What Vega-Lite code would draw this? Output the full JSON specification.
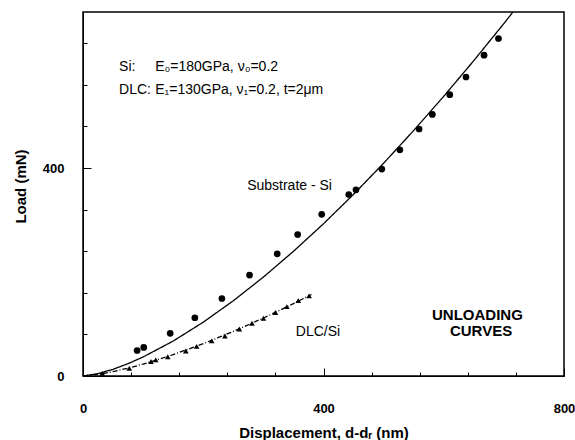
{
  "$schema": "https://vega.github.io/schema/vega-lite/v6.json",
  "width": 481,
  "height": 364,
  "autosize": "none",
  "padding": {"left": 83, "top": 12, "right": 11, "bottom": 64},
  "background": "white",
  "config": {
    "view": {"stroke": "black", "strokeWidth": 1.5},
    "font": "Liberation Sans",
    "axis": {"grid": false, "domainColor": "black", "labelColor": "black", "titleColor": "black", "labelOverlap": false}
  },
  "datasets": {
    "points": [
      {"series": "Si", "x": 90, "y": 49}, {"series": "Si", "x": 101, "y": 55}, {"series": "Si", "x": 145, "y": 82},
      {"series": "Si", "x": 186, "y": 112}, {"series": "Si", "x": 231, "y": 149}, {"series": "Si", "x": 277, "y": 194},
      {"series": "Si", "x": 323, "y": 235}, {"series": "Si", "x": 357, "y": 272}, {"series": "Si", "x": 397, "y": 311},
      {"series": "Si", "x": 442, "y": 349}, {"series": "Si", "x": 454, "y": 358}, {"series": "Si", "x": 497, "y": 398},
      {"series": "Si", "x": 527, "y": 435}, {"series": "Si", "x": 559, "y": 475}, {"series": "Si", "x": 581, "y": 503},
      {"series": "Si", "x": 610, "y": 541}, {"series": "Si", "x": 637, "y": 575}, {"series": "Si", "x": 667, "y": 617},
      {"series": "Si", "x": 691, "y": 649},
      {"series": "DLC", "x": 32, "y": 5}, {"series": "DLC", "x": 77, "y": 15}, {"series": "DLC", "x": 113, "y": 28},
      {"series": "DLC", "x": 121, "y": 31}, {"series": "DLC", "x": 141, "y": 37}, {"series": "DLC", "x": 171, "y": 48},
      {"series": "DLC", "x": 189, "y": 57}, {"series": "DLC", "x": 214, "y": 67.5}, {"series": "DLC", "x": 236, "y": 77},
      {"series": "DLC", "x": 260, "y": 90.5}, {"series": "DLC", "x": 281, "y": 101.5}, {"series": "DLC", "x": 300, "y": 111},
      {"series": "DLC", "x": 320, "y": 122}, {"series": "DLC", "x": 339, "y": 133.5}, {"series": "DLC", "x": 358, "y": 145},
      {"series": "DLC", "x": 376, "y": 154}
    ],
    "curves": [
      {"curve": "Substrate - Si", "x": 0, "y": 0}, {"curve": "Substrate - Si", "x": 25, "y": 4.6},
      {"curve": "Substrate - Si", "x": 50, "y": 12.9}, {"curve": "Substrate - Si", "x": 75, "y": 23.8},
      {"curve": "Substrate - Si", "x": 100, "y": 36.6}, {"curve": "Substrate - Si", "x": 150, "y": 67.2},
      {"curve": "Substrate - Si", "x": 200, "y": 103.5}, {"curve": "Substrate - Si", "x": 250, "y": 144.7},
      {"curve": "Substrate - Si", "x": 300, "y": 190.2}, {"curve": "Substrate - Si", "x": 350, "y": 239.7},
      {"curve": "Substrate - Si", "x": 400, "y": 292.8}, {"curve": "Substrate - Si", "x": 450, "y": 349.4},
      {"curve": "Substrate - Si", "x": 500, "y": 409.2}, {"curve": "Substrate - Si", "x": 550, "y": 472.1},
      {"curve": "Substrate - Si", "x": 600, "y": 537.9}, {"curve": "Substrate - Si", "x": 650, "y": 606.5},
      {"curve": "Substrate - Si", "x": 700, "y": 677.8}, {"curve": "Substrate - Si", "x": 715, "y": 699.8},
      {"curve": "DLC/Si", "x": 0, "y": 0}, {"curve": "DLC/Si", "x": 25, "y": 3.1},
      {"curve": "DLC/Si", "x": 50, "y": 8.4}, {"curve": "DLC/Si", "x": 75, "y": 15.1},
      {"curve": "DLC/Si", "x": 100, "y": 22.9}, {"curve": "DLC/Si", "x": 150, "y": 41.1},
      {"curve": "DLC/Si", "x": 200, "y": 62.2}, {"curve": "DLC/Si", "x": 250, "y": 85.7},
      {"curve": "DLC/Si", "x": 300, "y": 111.4}, {"curve": "DLC/Si", "x": 350, "y": 139.1},
      {"curve": "DLC/Si", "x": 380, "y": 156.8}
    ],
    "labels": [
      {"x": 60, "y": 595, "t": "Si:"},
      {"x": 120, "y": 595, "t": "E₀=180GPa, ν₀=0.2"},
      {"x": 60, "y": 550, "t": "DLC:"},
      {"x": 120, "y": 550, "t": "E₁=130GPa, ν₁=0.2,  t=2μm"},
      {"x": 273, "y": 366, "t": "Substrate - Si"},
      {"x": 354, "y": 85, "t": "DLC/Si"}
    ],
    "boldlabels": [
      {"x": 656, "y": 117, "t": "UNLOADING"},
      {"x": 662, "y": 87, "t": "CURVES"}
    ]
  },
  "layer": [
    {
      "data": {"name": "points"},
      "mark": {"type": "point", "filled": true, "color": "black", "opacity": 1},
      "encoding": {
        "x": {"field": "x", "type": "quantitative", "scale": {"domain": [0, 800], "nice": false},
          "axis": {"orient": "bottom", "title": "Displacement,  d-dᵣ (nm)",
            "values": [0,20,40,60,80,100,120,140,160,180,200,220,240,260,280,300,320,340,360,380,400,420,440,460,480,500,520,540,560,580,600,620,640,660,680,700,720,740,760,780,800],
            "labelExpr": "datum.value % 100 === 0 ? datum.label : ''",
            "labelOverlap": false,
            "tickColor": "black",
            "tickSize": {"condition": {"test": "datum.value % 100 === 0", "value": -8}, "value": -4},
            "labelPadding": 34, "labelFontSize": 13, "labelFontWeight": "bold", "labelFlush": false,
            "titleFontSize": 15, "titleFontWeight": "bold", "titlePadding": 6}},
        "y": {"field": "y", "type": "quantitative", "scale": {"domain": [0, 700], "nice": false},
          "axis": {"orient": "left", "title": "Load (mN)",
            "values": [0,20,40,60,80,100,120,140,160,180,200,220,240,260,280,300,320,340,360,380,400,420,440,460,480,500,520,540,560,580,600,620,640,660,680,700],
            "labelExpr": "datum.value % 100 === 0 ? datum.label : ''",
            "labelOverlap": false,
            "tickColor": "black",
            "tickSize": {"condition": {"test": "datum.value % 100 === 0", "value": -8}, "value": -4},
            "labelPadding": 27, "labelFontSize": 13, "labelFontWeight": "bold", "labelFlush": false,
            "titleFontSize": 15, "titleFontWeight": "bold", "titlePadding": 14, "titleY": 174}},
        "shape": {"field": "series", "type": "nominal", "scale": {"domain": ["Si", "DLC"], "range": ["circle", "triangle-up"]}, "legend": null},
        "size": {"field": "series", "type": "nominal", "scale": {"domain": ["Si", "DLC"], "range": [45, 32]}, "legend": null}
      }
    },
    {
      "data": {"name": "curves"},
      "mark": {"type": "line", "color": "black", "strokeWidth": 1.3, "clip": true},
      "encoding": {
        "x": {"field": "x", "type": "quantitative"},
        "y": {"field": "y", "type": "quantitative"},
        "strokeDash": {"field": "curve", "type": "nominal", "scale": {"domain": ["Substrate - Si", "DLC/Si"], "range": [[1, 0], [5, 2, 1, 2]]}, "legend": null}
      }
    },
    {
      "data": {"name": "labels"},
      "mark": {"type": "text", "align": "left", "baseline": "middle", "fontSize": 14, "font": "Liberation Sans", "color": "black"},
      "encoding": {
        "x": {"field": "x", "type": "quantitative"},
        "y": {"field": "y", "type": "quantitative"},
        "text": {"field": "t", "type": "nominal"}
      }
    },
    {
      "data": {"name": "boldlabels"},
      "mark": {"type": "text", "align": "center", "baseline": "middle", "fontSize": 15, "fontWeight": "bold", "font": "Liberation Sans", "color": "black"},
      "encoding": {
        "x": {"field": "x", "type": "quantitative"},
        "y": {"field": "y", "type": "quantitative"},
        "text": {"field": "t", "type": "nominal"}
      }
    }
  ]
}
